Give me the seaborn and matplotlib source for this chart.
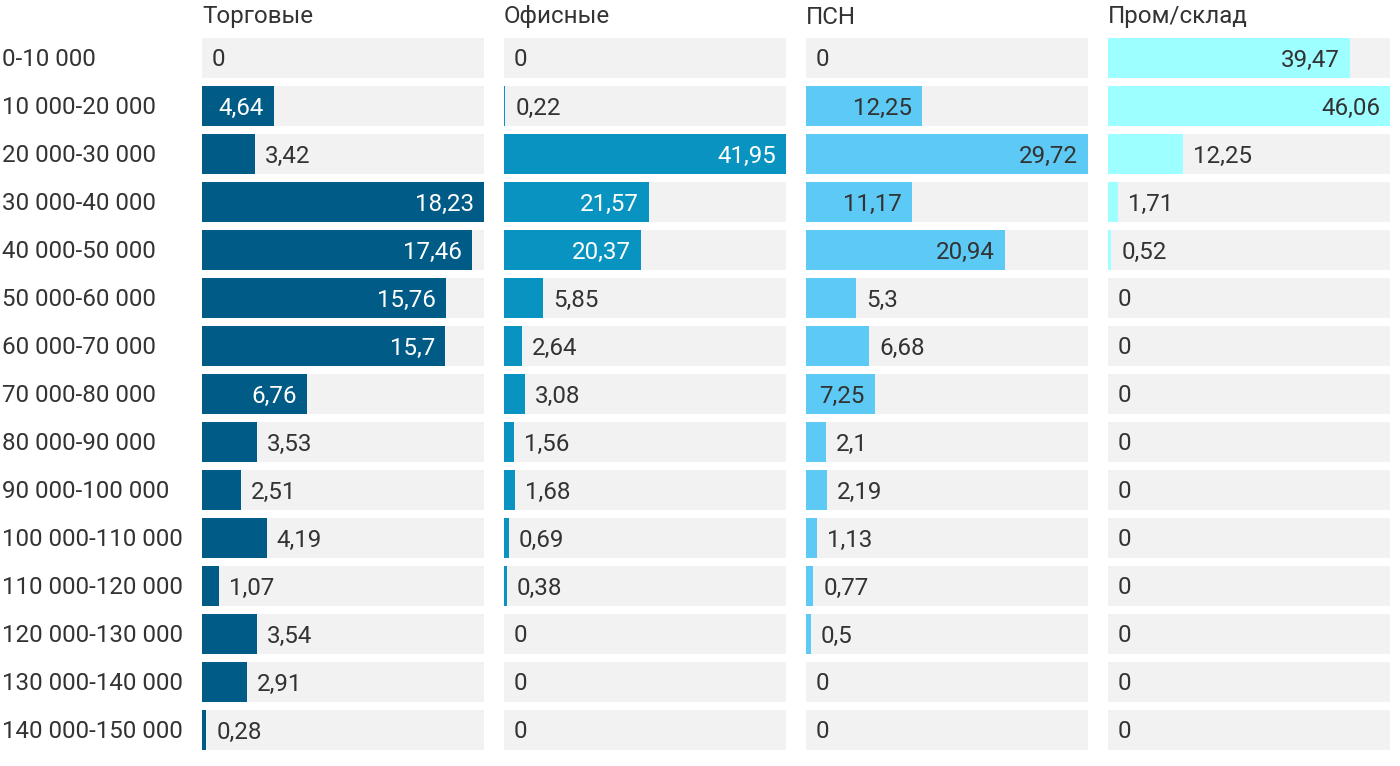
import matplotlib
matplotlib.use("Agg")
import matplotlib.pyplot as plt
import seaborn as sns
import pandas as pd
import numpy as np

categories = ["0-10 000", "10 000-20 000", "20 000-30 000", "30 000-40 000", "40 000-50 000",
              "50 000-60 000", "60 000-70 000", "70 000-80 000", "80 000-90 000", "90 000-100 000",
              "100 000-110 000", "110 000-120 000", "120 000-130 000", "130 000-140 000", "140 000-150 000"]
torgovye = [0, 4.64, 3.42, 18.23, 17.46, 15.76, 15.7, 6.76, 3.53, 2.51, 4.19, 1.07, 3.54, 2.91, 0.28]
ofisnye = [0, 0.22, 41.95, 21.57, 20.37, 5.85, 2.64, 3.08, 1.56, 1.68, 0.69, 0.38, 0, 0, 0]
psn = [0, 12.25, 29.72, 11.17, 20.94, 5.3, 6.68, 7.25, 2.1, 2.19, 1.13, 0.77, 0.5, 0, 0]
prom = [39.47, 46.06, 12.25, 1.71, 0.52, 0, 0, 0, 0, 0, 0, 0, 0, 0, 0]
titles = ["Торговые", "Офисные", "ПСН", "Пром/склад"]
series = [torgovye, ofisnye, psn, prom]
colors = ["#005b87", "#0993c1", "#5dc9f5", "#9dffff"]
inside_colors = ["white", "white", "#333333", "#333333"]

sns.set_theme(style="white")
plt.rcParams["font.family"] = ["Roboto", "DejaVu Sans"]

W, H = 1400, 766
fig = plt.figure(figsize=(W / 100, H / 100), dpi=100)
fig.patch.set_facecolor("white")

panel_lefts = [202, 504, 806, 1108]
panel_w = 282
top, bottom = 38, 750
bar_h = 40 / 48
n = len(categories)
fs = 17.4
txt = "#333333"
dy = -2

def fmt(v):
    return ("%g" % v).replace(".", ",")

axes = []
for k, (left, vals) in enumerate(zip(panel_lefts, series)):
    ax = fig.add_axes([left / W, 1 - bottom / H, panel_w / W, (bottom - top) / H])
    vmax = max(vals)
    df = pd.DataFrame({"cat": categories, "val": vals, "bg": [vmax] * n})
    sns.barplot(data=df, y="cat", x="bg", color="#f2f2f2", width=bar_h, ax=ax,
                orient="h", saturation=1, linewidth=0, order=categories)
    sns.barplot(data=df, y="cat", x="val", color=colors[k], width=bar_h, ax=ax,
                orient="h", saturation=1, linewidth=0, order=categories)
    ax.set_xlim(0, vmax)
    ax.set_ylim(n - 1 + bar_h / 2, -bar_h / 2)
    ax.axis("off")
    axes.append(ax)
    fig.text(left / W, 1 - 17 / H, titles[k], ha="left", va="center", fontsize=fs, color=txt)

fig.canvas.draw()
renderer = fig.canvas.get_renderer()
for k, (ax, vals) in enumerate(zip(axes, series)):
    vmax = max(vals)
    ppu = panel_w / vmax
    for i, v in enumerate(vals):
        s = fmt(v)
        t = ax.text(0, i, s, fontsize=fs, va="center", ha="left", color=txt)
        tw = t.get_window_extent(renderer).width
        t.remove()
        bw = v * ppu
        if v == 0:
            ax.annotate(s, (0, i), xytext=(10, dy), textcoords="offset pixels",
                        va="center", ha="left", fontsize=fs, color=txt)
        elif bw >= tw + 22:
            ax.annotate(s, (v, i), xytext=(-10, dy), textcoords="offset pixels",
                        va="center", ha="right", fontsize=fs, color=inside_colors[k])
        else:
            ax.annotate(s, (v, i), xytext=(10, dy), textcoords="offset pixels",
                        va="center", ha="left", fontsize=fs, color=txt)

ax0 = axes[0]
for i, c in enumerate(categories):
    ax0.annotate(c, (2 / W, i), xycoords=("figure fraction", "data"),
                 xytext=(0, dy), textcoords="offset pixels",
                 ha="left", va="center", fontsize=fs, color=txt)

fig.savefig("out.png", dpi=100, facecolor="white")
